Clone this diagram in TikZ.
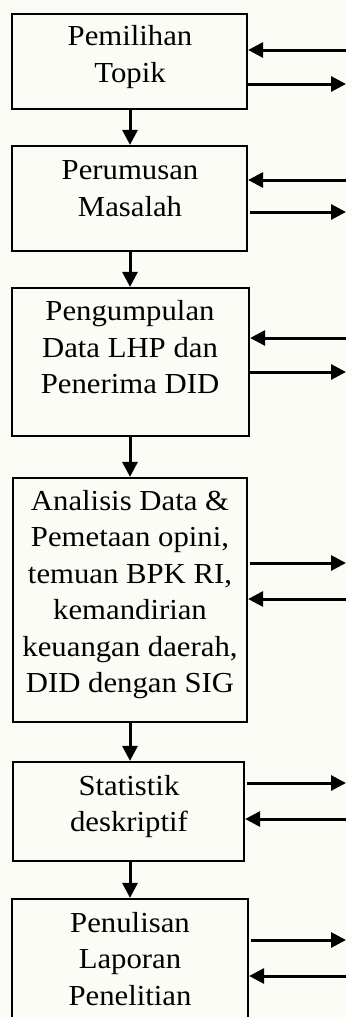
\documentclass[tikz,border=0pt]{standalone}
\usepackage{fontspec}
\setmainfont[FakeStretch=1.06]{Liberation Serif}
\usetikzlibrary{arrows.meta}
\definecolor{bgcream}{RGB}{252,252,246}
\tikzset{
  x=1pt, y=-1pt,
  stagebox/.style={draw, line width=2.2pt, inner sep=0pt},
  stagetext/.style={anchor=north, inner sep=0pt, align=center,
    font=\fontsize{29pt}{36.5pt}\selectfont},
  flow/.style={line width=3pt, -{Triangle[length=15pt,width=15pt]}},
}
\begin{document}
\begin{tikzpicture}
\useasboundingbox[fill=bgcream] (0,0) rectangle (346,1017);
% boxes (x from left, y from top)
\node[stagebox, minimum width=235pt, minimum height=95pt] (b1) at (129.5,61.5) {};
\node[stagebox, minimum width=235pt, minimum height=105pt] (b2) at (129.5,198.5) {};
\node[stagebox, minimum width=237pt, minimum height=148pt] (b3) at (130.5,362) {};
\node[stagebox, minimum width=234pt, minimum height=244pt] (b4) at (130,600) {};
\node[stagebox, minimum width=231pt, minimum height=99pt] (b5) at (128.5,811.5) {};
\node[stagebox, minimum width=236pt, minimum height=140pt] (b6) at (130,969) {};
% texts
\node[stagetext] (t1) at (130,25.5) {Pemilihan\\Topik};
\node[stagetext] (t2) at (130,160.5) {Perumusan\\Masalah};
\node[stagetext] (t3) at (130,300.5) {Pengumpulan\\Data LHP dan\\Penerima DID};
\node[stagetext] (t4) at (130,490) {Analisis Data \&\\Pemetaan opini,\\temuan BPK RI,\\kemandirian\\keuangan daerah,\\DID dengan SIG};
\node[stagetext] (t5) at (129,775) {Statistik\\deskriptif};
\node[stagetext] (t6) at (130,912) {Penulisan\\Laporan\\Penelitian};
% vertical flow
\coordinate (v) at (130,0);
\draw[flow] (b1.south -| v) -- (b2.north -| v);
\draw[flow] (b2.south -| v) -- (b3.north -| v);
\draw[flow] (b3.south -| v) -- (b4.north -| v);
\draw[flow] (b4.south -| v) -- (b5.north -| v);
\draw[flow] (b5.south -| v) -- (b6.north -| v);
% side arrows, free ends at the right edge
\coordinate (r1a) at (346,50);  \coordinate (r1b) at (346,84);
\coordinate (r2a) at (346,180); \coordinate (r2b) at (346,212);
\coordinate (r3a) at (346,338); \coordinate (r3b) at (346,372);
\coordinate (r4a) at (346,563); \coordinate (r4b) at (346,599);
\coordinate (r5a) at (346,783); \coordinate (r5b) at (346,819);
\coordinate (r6a) at (346,940); \coordinate (r6b) at (346,976);
\draw[flow] (r1a) -- (r1a -| b1.east);
\draw[flow] (r1b -| b1.east) -- (r1b);
\draw[flow] (r2a) -- (r2a -| b2.east);
\draw[flow] ([xshift=2pt]r2b -| b2.east) -- (r2b);
\draw[flow] (r3a) -- (r3a -| b3.east);
\draw[flow] (r3b -| b3.east) -- (r3b);
\draw[flow] ([xshift=2pt]r4a -| b4.east) -- (r4a);
\draw[flow] (r4b) -- (r4b -| b4.east);
\draw[flow] ([xshift=2pt]r5a -| b5.east) -- (r5a);
\draw[flow] (r5b) -- (r5b -| b5.east);
\draw[flow] ([xshift=2pt]r6a -| b6.east) -- (r6a);
\draw[flow] (r6b) -- (r6b -| b6.east);
\end{tikzpicture}
\end{document}
